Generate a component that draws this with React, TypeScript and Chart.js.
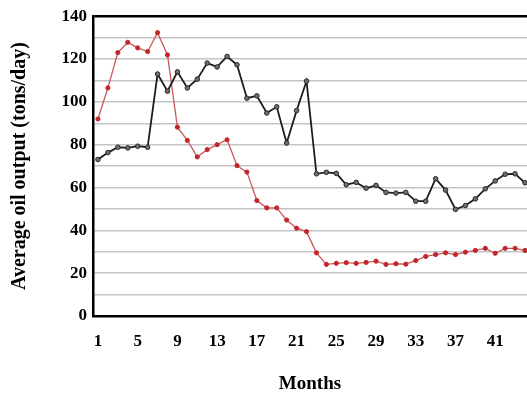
import React, { useEffect, useRef } from 'react';
import { Chart, registerables } from 'chart.js';

Chart.register(...registerables);

const MONTHS = [
  1, 2, 3, 4, 5, 6, 7, 8, 9, 10, 11, 12, 13, 14, 15, 16, 17, 18, 19, 20, 21, 22,
  23, 24, 25, 26, 27, 28, 29, 30, 31, 32, 33, 34, 35, 36, 37, 38, 39, 40, 41, 42, 43, 44,
];

const BLACK_SERIES = [
  73.1, 76.3, 78.8, 78.5, 79.3, 78.8, 113.0, 105.0, 114.0, 106.5, 110.6, 118.1, 116.3, 121.2,
  117.3, 101.7, 102.8, 94.8, 97.7, 80.8, 95.9, 109.7, 66.4, 67.1, 66.6, 61.3, 62.4, 59.7,
  61.0, 57.7, 57.4, 57.7, 53.6, 53.6, 64.1, 58.8, 49.8, 51.6, 54.7, 59.4, 63.1, 66.2, 66.4, 62.2,
];

const RED_SERIES = [
  92.0, 106.5, 123.0, 127.8, 125.2, 123.5, 132.3, 121.9, 88.2, 82.0, 74.3, 77.7, 80.0, 82.3,
  70.2, 67.2, 53.9, 50.5, 50.5, 44.8, 41.0, 39.4, 29.5, 24.1, 24.6, 24.9, 24.6, 25.0,
  25.6, 24.1, 24.4, 24.2, 25.9, 27.8, 28.7, 29.5, 28.7, 29.8, 30.6, 31.6, 29.3, 31.6, 31.6, 30.6,
];

const X_TICKS = [1, 5, 9, 13, 17, 21, 25, 29, 33, 37, 41];
const Y_TICK_LABELS = [0, 20, 40, 60, 80, 100, 120, 140];

const X_TITLE = 'Months';
const Y_TITLE = 'Average oil output (tons/day)';

const FONT = "'Liberation Serif', 'Times New Roman', serif";

export default function App() {
  const canvasRef = useRef<HTMLCanvasElement | null>(null);

  useEffect(() => {
    const canvas = canvasRef.current;
    if (!canvas) return;
    const chart = new Chart(canvas, {
      type: 'line',
      data: {
        datasets: [
          {
            label: 'Series A',
            data: MONTHS.map((m, i) => ({ x: m, y: BLACK_SERIES[i] })),
            borderColor: '#1c1c1c',
            borderWidth: 1.8,
            pointRadius: 2.3,
            pointBackgroundColor: '#6e6e6e',
            pointBorderColor: '#2a2a2a',
            pointBorderWidth: 1,
            tension: 0,
          },
          {
            label: 'Series B',
            data: MONTHS.map((m, i) => ({ x: m, y: RED_SERIES[i] })),
            borderColor: '#c9585a',
            borderWidth: 1.3,
            pointRadius: 2.1,
            pointBackgroundColor: '#c2262c',
            pointBorderColor: '#c2262c',
            pointBorderWidth: 1,
            tension: 0,
          },
        ],
      },
      options: {
        responsive: false,
        animation: false,
        devicePixelRatio: 1,
        layout: { autoPadding: false, padding: { top: 13, right: 0, bottom: 0, left: 0 } },
        plugins: {
          legend: { display: false },
          tooltip: { enabled: false },
        },
        scales: {
          x: {
            type: 'linear',
            min: 0.5,
            max: 44.2,
            afterBuildTicks: (scale: any) => {
              scale.ticks = X_TICKS.map((v) => ({ value: v }));
            },
            afterFit: (scale: any) => {
              scale.height = 80;
            },
            grid: { display: false, drawTicks: false },
            border: { display: true, color: '#000', width: 2.5 },
            ticks: {
              autoSkip: false,
              maxRotation: 0,
              padding: 15,
              color: '#000',
              font: { family: FONT, size: 17, weight: 'bold' },
              callback: (v: any) => String(v),
            },
            title: {
              display: true,
              text: X_TITLE,
              color: '#000',
              font: { family: FONT, size: 19, weight: 'bold', lineHeight: 1.2 },
              padding: { top: 0, bottom: 1 },
            },
          },
          y: {
            type: 'linear',
            min: 0,
            max: 140,
            afterFit: (scale: any) => {
              scale.width = 93;
            },
            grid: {
              drawTicks: false,
              color: (ctx: any) => (ctx.tick && ctx.tick.value === 140 ? '#000' : '#c4c4c4'),
              lineWidth: (ctx: any) => (ctx.tick && ctx.tick.value === 140 ? 2.5 : 1.5),
            },
            border: { display: true, color: '#000', width: 2.5 },
            ticks: {
              stepSize: 10,
              autoSkip: false,
              padding: 6,
              color: '#000',
              font: { family: FONT, size: 17, weight: 'bold' },
              callback: (v: any) => (Y_TICK_LABELS.includes(Number(v)) ? String(v) : ''),
            },
            title: {
              display: true,
              text: Y_TITLE,
              color: '#000',
              font: { family: FONT, size: 20, weight: 'bold', lineHeight: 1.2 },
              padding: { top: 8, bottom: 0 },
            },
          },
        },
      },
    });
    return () => chart.destroy();
  }, []);

  return (
    <div style={{ position: 'fixed', left: 0, top: 0, width: 527, height: 396, background: '#fff' }}>
      <canvas ref={canvasRef} width={527} height={396} style={{ display: 'block' }} />
    </div>
  );
}
